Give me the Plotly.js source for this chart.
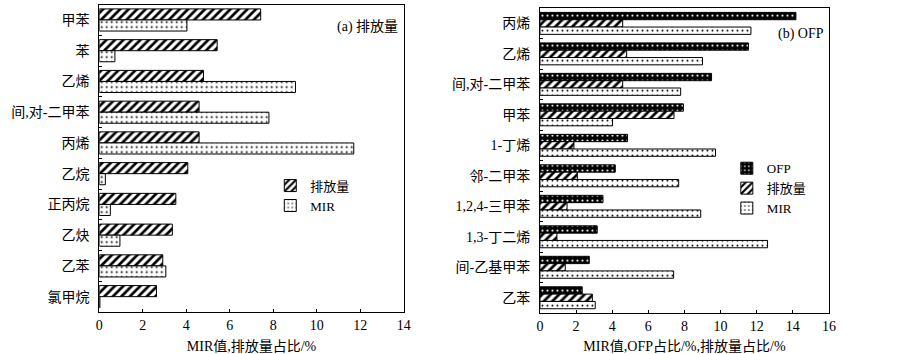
<!DOCTYPE html>
<html>
<head>
<meta charset="utf-8">
<script src="https://cdn.plot.ly/plotly-3.0.1.min.js"></script>
<style>html,body{margin:0;padding:0;background:#fff;}#chart{width:904px;height:354px;}</style>
</head>
<body>
<div id="chart"></div>
<script>
// Panel (a): emissions share and MIR
const catsA = ['甲苯','苯','乙烯','间,对-二甲苯','丙烯','乙烷','正丙烷','乙炔','乙苯','氯甲烷'];
const emisA = [7.42, 5.42, 4.79, 4.59, 4.59, 4.07, 3.52, 3.36, 2.92, 2.63];
const mirA  = [4.03, 0.72, 9.02, 7.80, 11.70, 0.28, 0.51, 0.95, 3.06, 0.03];

// Panel (b): OFP share, emissions share and MIR
const catsB = ['丙烯','乙烯','间,对-二甲苯','甲苯','1-丁烯','邻-二甲苯','1,2,4-三甲苯','1,3-丁二烯','间-乙基甲苯','乙苯'];
const ofpB  = [14.17, 11.54, 9.50, 7.94, 4.85, 4.17, 3.49, 3.17, 2.73, 2.34];
const emisB = [4.58, 4.80, 4.58, 7.42, 1.88, 2.07, 1.50, 0.94, 1.40, 2.90];
const mirB  = [11.68, 9.00, 7.79, 4.02, 9.72, 7.68, 8.90, 12.60, 7.40, 3.06];

const FONT = 'Liberation Serif, "Times New Roman", "Noto Sans CJK SC", serif';
const line = {color:'#000', width:1};
const hatch = {shape:'/', fillmode:'replace', bgcolor:'#fff', fgcolor:'#000', size:6, solidity:0.45};
const dots  = {shape:'.', fillmode:'replace', bgcolor:'#fff', fgcolor:'#000', size:5, solidity:0.12};
const ofpPat = {shape:'.', fillmode:'replace', bgcolor:'#000', fgcolor:'#fff', size:5, solidity:0.15};

const traces = [
  {type:'bar', orientation:'h', name:'排放量', y:catsA, x:emisA, xaxis:'x', yaxis:'y', legend:'legend',
   marker:{color:'#fff', line:line, pattern:hatch}},
  {type:'bar', orientation:'h', name:'MIR', y:catsA, x:mirA, xaxis:'x', yaxis:'y', legend:'legend',
   marker:{color:'#fff', line:line, pattern:dots}},
  {type:'bar', orientation:'h', name:'OFP', y:catsB, x:ofpB, xaxis:'x2', yaxis:'y2', legend:'legend2',
   marker:{color:'#000', line:line, pattern:ofpPat}},
  {type:'bar', orientation:'h', name:'排放量', y:catsB, x:emisB, xaxis:'x2', yaxis:'y2', legend:'legend2',
   marker:{color:'#fff', line:line, pattern:hatch}},
  {type:'bar', orientation:'h', name:'MIR', y:catsB, x:mirB, xaxis:'x2', yaxis:'y2', legend:'legend2',
   marker:{color:'#fff', line:line, pattern:dots}}
];

const xbase = {showgrid:false, zeroline:false, showline:true, linecolor:'#000', linewidth:1, mirror:true,
  ticks:'inside', ticklen:3, tickcolor:'#000', dtick:2, tick0:0,
  tickfont:{family:FONT, size:14, color:'#000'}};
const ybase = {type:'category', autorange:'reversed', showgrid:false, zeroline:false, showline:true,
  linecolor:'#000', linewidth:1, mirror:true, ticks:'inside', ticklen:3, tickcolor:'#000',
  tickson:'boundaries', tickfont:{family:FONT, size:14, color:'#000'}, ticklabelstandoff:6};

const layout = {
  width:904, height:354, margin:{l:0, r:0, t:0, b:0},
  paper_bgcolor:'#fff', plot_bgcolor:'#fff',
  barmode:'group', bargap:0.28, bargroupgap:0,
  font:{family:FONT, color:'#000'},
  xaxis:Object.assign({}, xbase, {domain:[0.1098, 0.4467], range:[0,14], anchor:'y',
    title:{text:'MIR值,排放量占比/%', font:{family:FONT, size:14, color:'#000'}, standoff:10}}),
  yaxis:Object.assign({}, ybase, {domain:[0.1186, 0.987], anchor:'x'}),
  xaxis2:Object.assign({}, xbase, {domain:[0.5973, 0.9170], range:[0,16], anchor:'y2',
    title:{text:'MIR值,OFP占比/%,排放量占比/%', font:{family:FONT, size:14, color:'#000'}, standoff:10}}),
  yaxis2:Object.assign({}, ybase, {domain:[0.1158, 0.977], anchor:'x2'}),
  legend:{x:0.299, y:0.518, xanchor:'left', yanchor:'top', bgcolor:'rgba(0,0,0,0)',
    font:{family:FONT, size:13, color:'#000'}, itemwidth:30, tracegroupgap:0, traceorder:'normal'},
  legend2:{x:0.804, y:0.567, xanchor:'left', yanchor:'top', bgcolor:'rgba(0,0,0,0)',
    font:{family:FONT, size:13, color:'#000'}, itemwidth:30, tracegroupgap:0, traceorder:'normal'},
  annotations:[
    {xref:'paper', yref:'paper', x:0.443, y:0.925, xanchor:'right', yanchor:'middle', showarrow:false,
     text:'(a) 排放量', font:{family:FONT, size:14, color:'#000'}},
    {xref:'paper', yref:'paper', x:0.914, y:0.905, xanchor:'right', yanchor:'middle', showarrow:false,
     text:'(b) OFP', font:{family:FONT, size:14, color:'#000'}}
  ]
};

Plotly.newPlot('chart', traces, layout, {displayModeBar:false, staticPlot:true});
</script>
</body>
</html>
